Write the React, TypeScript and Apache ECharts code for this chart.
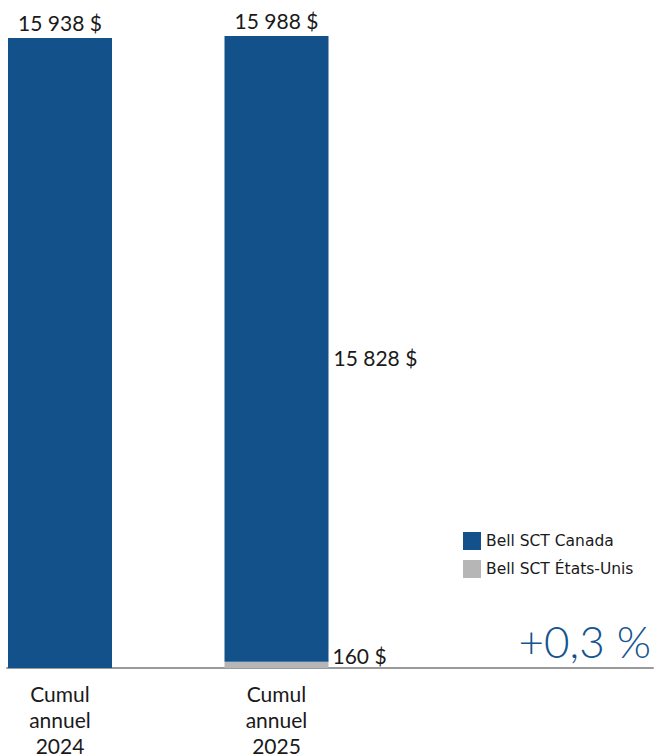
import React, { useEffect, useRef } from "react";
import * as echarts from "echarts";

const categories = ["Cumul\nannuel\n2024", "Cumul\nannuel\n2025", ""];
const canada = [15938, 15828, null];
const usa = [null, 160, null];
const totals = [15938, 15988, null];
const changeLabel = "+0,3 %";

const fmt = (v: number) => `${String(v).replace(/\B(?=(\d{3})+(?!\d))/g, " ")} $`;

const FONT = "Lato";
const BLUE = "#13518a";
const GRAY = "#b6b6b6";

export default function App() {
  const ref = useRef<HTMLDivElement>(null);
  useEffect(() => {
    document.body.style.margin = "0";
    const chart = echarts.init(ref.current!, null, { renderer: "svg" });
    chart.setOption({
      animation: false,
      textStyle: { fontFamily: FONT },
      legend: {
        orient: "vertical",
        left: 458,
        top: 527,
        itemWidth: 18,
        itemHeight: 18,
        itemGap: 10,
        icon: "rect",
        data: ["Bell SCT Canada", "Bell SCT États-Unis"],
        textStyle: { fontFamily: "DejaVu Sans", fontSize: 15.5, color: "#1a1a1a" },
      },
      grid: [
        { left: -48.25, width: 649.5, top: 35.5, bottom: 88, outerBoundsMode: "none", containLabel: false },
        { left: 7, right: 2, top: 35.5, bottom: 88, outerBoundsMode: "none", containLabel: false },
      ],
      xAxis: [
        {
          type: "category",
          gridIndex: 0,
          data: categories,
          axisLine: { show: false },
          axisTick: { show: false },
          axisLabel: {
            margin: 12,
            fontFamily: FONT,
            fontSize: 21,
            lineHeight: 26,
            color: "#1a1a1a",
          },
        },
        {
          type: "value",
          gridIndex: 1,
          axisLine: { show: true, lineStyle: { color: "#9a9a9a", width: 2 } },
          axisTick: { show: false },
          axisLabel: { show: false },
          splitLine: { show: false },
        },
      ],
      yAxis: [
        { type: "value", gridIndex: 0, min: 0, max: 16000, show: false },
        { type: "value", gridIndex: 1, show: false },
      ],
      graphic: [
        {
          type: "text",
          right: 4,
          top: 619,
          style: {
            text: changeLabel,
            fontFamily: FONT,
            fontSize: 44,
            fontWeight: 300,
            fill: "#14548f",
          },
        },
      ],
      series: [
        {
          name: "Bell SCT États-Unis",
          type: "bar",
          stack: "s",
          xAxisIndex: 0,
          yAxisIndex: 0,
          barWidth: 104,
          itemStyle: { color: GRAY },
          data: usa,
          label: {
            show: true,
            position: "right",
            distance: 4,
            offset: [0, -9],
            fontFamily: FONT,
            fontSize: 21,
            color: "#1a1a1a",
            formatter: (p: any) => (p.value ? fmt(p.value) : ""),
          },
        },
        {
          name: "Bell SCT Canada",
          type: "bar",
          stack: "s",
          xAxisIndex: 0,
          yAxisIndex: 0,
          barWidth: 104,
          itemStyle: { color: BLUE },
          data: canada.map((v, i) =>
            i === 1
              ? {
                  value: v,
                  label: {
                    show: true,
                    position: "right",
                    distance: 5,
                    offset: [0, 9],
                    fontFamily: FONT,
                    fontSize: 21,
                    color: "#1a1a1a",
                    formatter: (p: any) => fmt(p.value),
                  },
                }
              : v
          ),
        },
        {
          name: "total",
          type: "scatter",
          xAxisIndex: 0,
          yAxisIndex: 0,
          data: totals,
          symbolSize: 0,
          clip: false,
          itemStyle: { color: "rgba(0,0,0,0)" },
          silent: true,
          label: {
            show: true,
            position: "top",
            distance: 5,
            fontFamily: FONT,
            fontSize: 21,
            color: "#1a1a1a",
            opacity: 1,
            formatter: (p: any) => (p.value ? fmt(p.value) : ""),
          },
        },
      ],
    });
    return () => chart.dispose();
  }, []);
  return <div ref={ref} style={{ width: 655, height: 756 }} />;
}
